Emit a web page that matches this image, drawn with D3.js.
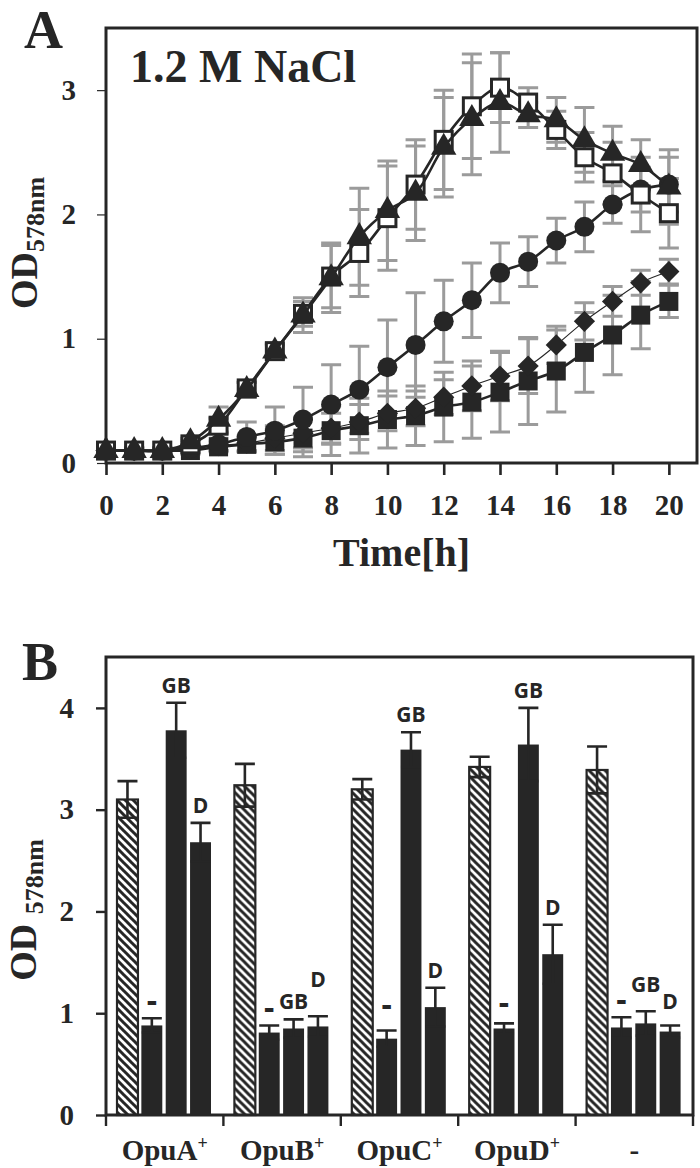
<!DOCTYPE html>
<html>
<head>
<meta charset="utf-8">
<script src="https://cdn.jsdelivr.net/npm/d3@7"></script>
<style>
  body { margin: 0; background: #fff; }
  svg text { font-family: "Liberation Serif", "Times New Roman", serif; font-weight: bold; fill: #262626; }
  .barlab { font-family: "Open Sans", "Liberation Sans", sans-serif; }
</style>
</head>
<body>
<div id="fig"></div>
<script>
// ---- Panel A data: growth in 1.2 M NaCl ----
var time = [0,1,2,3,4,5,6,7,8,9,10,11,12,13,14,15,16,17,18,19,20];
var filledSquare    = [0.1,0.1,0.1,0.1,0.13,0.15,0.17,0.2,0.26,0.3,0.35,0.38,0.45,0.49,0.57,0.66,0.74,0.89,1.03,1.19,1.3];
var filledSquareErr = [0.02,0.02,0.02,0.03,0.04,0.06,0.1,0.15,0.2,0.22,0.23,0.24,0.28,0.29,0.32,0.35,0.33,0.32,0.32,0.27,0.13];
var diamond         = [0.1,0.1,0.1,0.12,0.14,0.16,0.2,0.24,0.28,0.33,0.4,0.44,0.53,0.62,0.7,0.78,0.95,1.14,1.3,1.45,1.54];
var diamondErr      = [0.02,0.02,0.02,0.03,0.04,0.06,0.1,0.12,0.12,0.14,0.14,0.14,0.14,0.2,0.2,0.22,0.15,0.15,0.12,0.1,0.1];
var circle          = [0.1,0.1,0.1,0.12,0.15,0.21,0.26,0.35,0.47,0.59,0.77,0.95,1.14,1.31,1.53,1.62,1.79,1.9,2.08,2.2,2.24];
var circleErr       = [0.02,0.02,0.02,0.03,0.05,0.12,0.19,0.26,0.32,0.35,0.38,0.42,0.33,0.3,0.24,0.2,0.18,0.2,0.15,0.18,0.22];
var openSquare      = [0.1,0.1,0.1,0.15,0.3,0.6,0.9,1.2,1.5,1.69,1.97,2.24,2.6,2.87,3.02,2.9,2.68,2.46,2.33,2.16,2.01];
var openSquareErr   = [0.02,0.02,0.02,0.03,0.06,0.05,0.06,0.1,0.25,0.35,0.42,0.36,0.4,0.42,0.28,0.12,0.15,0.2,0.25,0.3,0.28];
var triangle        = [0.1,0.1,0.1,0.17,0.35,0.59,0.9,1.19,1.49,1.82,2.03,2.17,2.54,2.77,2.9,2.8,2.76,2.6,2.49,2.4,2.22];
var triangleErr     = [0.02,0.02,0.02,0.03,0.1,0.06,0.05,0.14,0.28,0.39,0.4,0.38,0.4,0.45,0.4,0.1,0.18,0.26,0.22,0.2,0.3];
var timeTicks = [0,2,4,6,8,10,12,14,16,18,20];
var odTicksA  = [0,1,2,3];

// ---- Panel B data: final OD per strain and added solute ----
var strains    = ["OpuA+","OpuB+","OpuC+","OpuD+","-"];
var treatments = ["ctrl","-","GB","D"];
var ctrlOD   = [3.1,3.24,3.2,3.42,3.39];
var ctrlErr  = [0.18,0.21,0.1,0.1,0.23];
var noneOD   = [0.88,0.81,0.75,0.85,0.86];
var noneErr  = [0.07,0.07,0.08,0.05,0.1];
var gbOD     = [3.78,0.85,3.59,3.64,0.9];
var gbErr    = [0.27,0.09,0.17,0.36,0.12];
var dOD      = [2.68,0.87,1.06,1.58,0.82];
var dErr     = [0.19,0.1,0.19,0.29,0.06];
var odTicksB = [0,1,2,3,4];

var ink = "#262626", grey = "#9b9b9b";

var svg = d3.select("#fig").append("svg")
  .attr("width", 700)
  .attr("height", 1168);

var defs = svg.append("defs");
var hatch = defs.append("pattern")
  .attr("id", "hatch")
  .attr("patternUnits", "userSpaceOnUse")
  .attr("width", 8)
  .attr("height", 8);
hatch.append("rect").attr("width", 8).attr("height", 8).attr("fill", "#fff");
hatch.append("path")
  .attr("d", "M-1,-1L9,9M-1,7L1,9M7,-1L9,1")
  .attr("stroke", ink)
  .attr("stroke-width", 3);

// =================== Panel A ===================
var xA = d3.scaleLinear().domain([0, 21]).range([106, 697]);
var yA = d3.scaleLinear().domain([0, 3.5]).range([463, 28]);

var gA = svg.append("g");

gA.append("g")
  .attr("transform", "translate(0,463)")
  .call(d3.axisBottom(xA).tickValues(timeTicks).tickFormat(d3.format("d")).tickSize(12).tickPadding(19).tickSizeOuter(0))
  .call(g => g.select(".domain").remove())
  .call(g => g.selectAll("line").attr("stroke", ink).attr("stroke-width", 2.6))
  .call(g => g.selectAll("text").attr("font-size", 29).attr("font-family", null).attr("fill", ink));

gA.append("g")
  .attr("transform", "translate(106,0)")
  .call(d3.axisLeft(yA).tickValues(odTicksA).tickFormat(d3.format("d")).tickSize(9).tickPadding(21).tickSizeOuter(0))
  .call(g => g.select(".domain").remove())
  .call(g => g.selectAll("line").attr("stroke", ink).attr("stroke-width", 1.2))
  .call(g => g.selectAll("text").attr("font-size", 29).attr("font-family", null).attr("fill", ink));

var seriesA = [
  { vals: filledSquare, err: filledSquareErr, mark: "square", lw: 2.6 },
  { vals: diamond,      err: diamondErr,      mark: "diamond", lw: 1.1 },
  { vals: circle,       err: circleErr,       mark: "circle", lw: 2.6 },
  { vals: openSquare,   err: openSquareErr,   mark: "open", lw: 2.6 },
  { vals: triangle,     err: triangleErr,     mark: "triangle", lw: 2.6 }
];

// error bars behind everything
seriesA.forEach(function(s) {
  var eg = gA.append("g").attr("stroke", grey).attr("stroke-width", 3).attr("fill", "none");
  time.forEach(function(t, i) {
    var x = xA(t), lo = yA(s.vals[i] - s.err[i]), hi = yA(s.vals[i] + s.err[i]);
    eg.append("path").attr("d", `M${x},${lo}V${hi}M${x - 10},${hi}H${x + 10}M${x - 10},${lo}H${x + 10}`);
  });
});

var lineA = d3.line()
  .x((d, i) => xA(time[i]))
  .y(d => yA(d))
  .curve(d3.curveCatmullRom.alpha(0.5));

seriesA.forEach(function(s) {
  gA.append("path")
    .attr("d", lineA(s.vals))
    .attr("fill", "none")
    .attr("stroke", ink)
    .attr("stroke-width", s.lw);

  var mg = gA.append("g");
  time.forEach(function(t, i) {
    var x = xA(t), y = yA(s.vals[i]);
    if (s.mark === "square") {
      mg.append("rect").attr("x", x - 9.5).attr("y", y - 9.5).attr("width", 19).attr("height", 19).attr("fill", ink);
    } else if (s.mark === "diamond") {
      mg.append("rect").attr("x", -7.5).attr("y", -7.5).attr("width", 15).attr("height", 15).attr("fill", ink)
        .attr("transform", `translate(${x},${y}) rotate(45)`);
    } else if (s.mark === "circle") {
      mg.append("circle").attr("cx", x).attr("cy", y).attr("r", 10).attr("fill", ink);
    } else if (s.mark === "open") {
      mg.append("rect").attr("x", x - 8.5).attr("y", y - 8.5).attr("width", 17).attr("height", 17)
        .attr("fill", "#fff").attr("stroke", ink).attr("stroke-width", 3);
    } else {
      mg.append("path").attr("d", d3.symbol(d3.symbolTriangle, 280)()).attr("fill", ink)
        .attr("transform", `translate(${x},${y})`);
    }
  });
});

// frame
gA.append("rect")
  .attr("x", xA(0)).attr("y", yA(3.5))
  .attr("width", xA(21) - xA(0)).attr("height", yA(0) - yA(3.5))
  .attr("fill", "none").attr("stroke", ink).attr("stroke-width", 3);

gA.append("text").attr("x", 24).attr("y", 48).attr("font-size", 54).text("A");
gA.append("text").attr("x", 130).attr("y", 82).attr("font-size", 46).text("1.2 M NaCl");
gA.append("text").attr("x", (xA(0) + xA(21)) / 2).attr("y", 566).attr("font-size", 40)
  .attr("text-anchor", "middle").text("Time[h]");

var labA = gA.append("text").attr("transform", "translate(37,243) rotate(-90)").attr("text-anchor", "middle");
labA.append("tspan").attr("font-size", 38).text("OD");
labA.append("tspan").attr("font-size", 26).attr("dy", 7).text("578nm");

// =================== Panel B ===================
var xB0 = d3.scaleBand().domain(strains).range([106, 693]);
var xB1 = d3.scaleBand().domain(treatments).range([11, 105]).paddingInner(0.14);
var yB = d3.scaleLinear().domain([0, 4.5]).range([1115, 657]);

var gB = svg.append("g");

gB.append("g")
  .attr("transform", "translate(106,0)")
  .call(d3.axisLeft(yB).tickValues(odTicksB).tickFormat(d3.format("d")).tickSize(10).tickPadding(22).tickSizeOuter(0))
  .call(g => g.select(".domain").remove())
  .call(g => g.selectAll("line").attr("stroke", ink).attr("stroke-width", 2.4))
  .call(g => g.selectAll("text").attr("font-size", 29).attr("font-family", null).attr("fill", ink));

var barRows = strains.map(function(s, i) {
  return [
    { strain: s, key: "ctrl", v: ctrlOD[i], e: ctrlErr[i] },
    { strain: s, key: "-",    v: noneOD[i], e: noneErr[i] },
    { strain: s, key: "GB",   v: gbOD[i],   e: gbErr[i] },
    { strain: s, key: "D",    v: dOD[i],    e: dErr[i] }
  ];
});
var bars = d3.merge(barRows);

var groups = gB.selectAll(".bar")
  .data(bars)
  .enter()
  .append("g")
  .attr("transform", d => `translate(${xB0(d.strain) + xB1(d.key)},0)`);

var bw = xB1.bandwidth();

groups.append("rect")
  .attr("x", 0)
  .attr("y", d => yB(d.v))
  .attr("width", bw)
  .attr("height", d => yB(0) - yB(d.v))
  .attr("fill", d => d.key === "ctrl" ? "url(#hatch)" : ink)
  .attr("stroke", d => d.key === "ctrl" ? ink : "none")
  .attr("stroke-width", 2.2);

groups.append("path")
  .attr("d", function(d) {
    var c = bw / 2, hi = yB(d.v + d.e), lo = yB(d.v - d.e);
    return `M${c},${lo}V${hi}M${c - 10},${hi}H${c + 10}M${c - 10},${lo}H${c + 10}`;
  })
  .attr("fill", "none")
  .attr("stroke", ink)
  .attr("stroke-width", 2.6);

// labels above solute bars, some lifted to keep clear of neighbours
var lift = { "OpuB+|D": 19, "-|GB": 9, "-|D": 6, "OpuC+|-": 9, "OpuD+|-": 3 };
groups.filter(d => d.key !== "ctrl")
  .append("text")
  .attr("class", "barlab")
  .attr("x", bw / 2)
  .attr("y", d => yB(d.v + d.e) - (d.key === "-" ? 6 : 10) - (lift[d.strain + "|" + d.key] || 0))
  .attr("text-anchor", "middle")
  .attr("font-size", d => d.key === "-" ? 32 : 21)
  .text(d => d.key);

// strain labels, then boundary ticks
gB.append("g")
  .attr("transform", "translate(0,1115)")
  .call(d3.axisBottom(xB0).tickSize(0).tickPadding(24))
  .call(g => g.select(".domain").remove())
  .call(g => g.selectAll("text").attr("font-size", 29).attr("font-family", null).attr("fill", ink)
    .each(function(d) {
      var t = d3.select(this).text(null);
      if (d.slice(-1) === "+" && d.length > 1) {
        t.append("tspan").text(d.slice(0, -1));
        t.append("tspan").attr("font-size", 18).attr("dy", -11).text("+");
      } else {
        t.append("tspan").text(d);
      }
    }));

var bounds = strains.map(s => xB0(s)).concat([xB0.range()[1]]);
gB.append("g").selectAll("line")
  .data(bounds)
  .enter()
  .append("line")
  .attr("x1", d => d).attr("x2", d => d)
  .attr("y1", 1115).attr("y2", 1126)
  .attr("stroke", ink).attr("stroke-width", 2.4);

gB.append("rect")
  .attr("x", 106).attr("y", yB(4.5))
  .attr("width", 693 - 106).attr("height", yB(0) - yB(4.5))
  .attr("fill", "none").attr("stroke", ink).attr("stroke-width", 3);

gB.append("text").attr("x", 22).attr("y", 680).attr("font-size", 54).text("B");

var labB = gB.append("text").attr("transform", "translate(36,910) rotate(-90)").attr("text-anchor", "middle");
labB.append("tspan").attr("font-size", 38).text("OD ");
labB.append("tspan").attr("font-size", 26).attr("dy", 7).text("578nm");
</script>
</body>
</html>
